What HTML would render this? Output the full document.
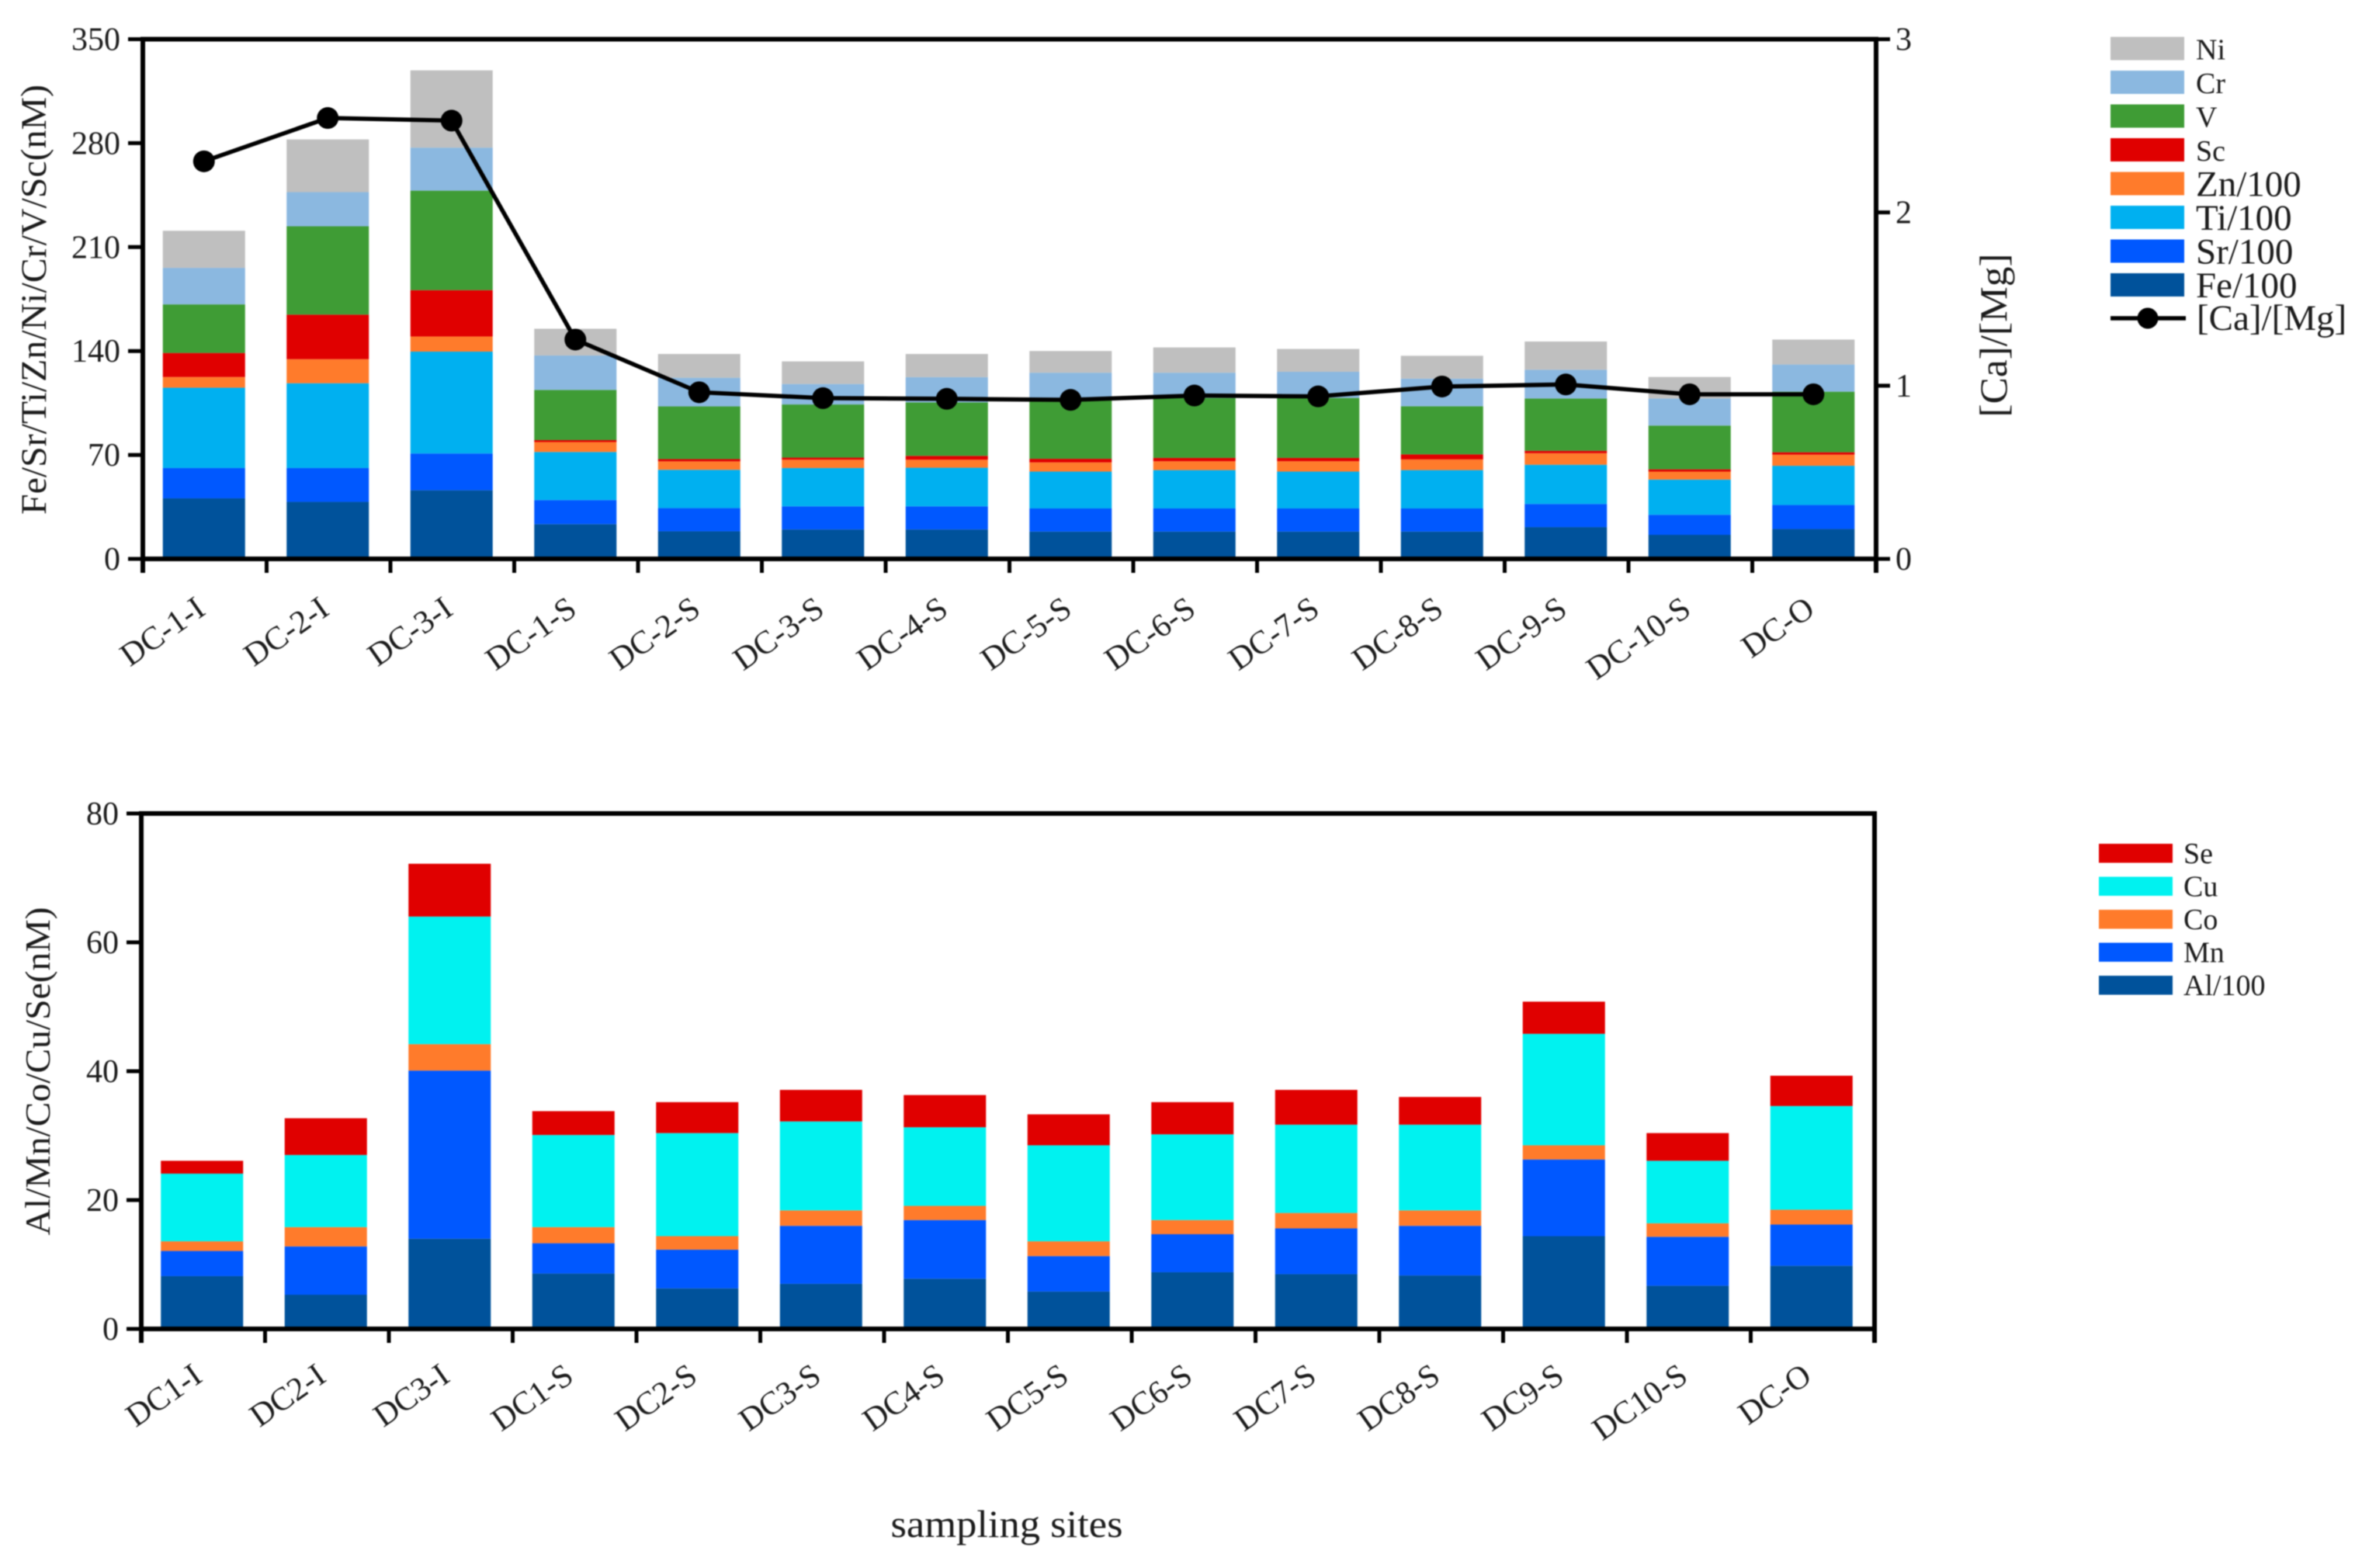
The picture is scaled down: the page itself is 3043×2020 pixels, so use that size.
<!DOCTYPE html>
<html lang="en">
<head>
<meta charset="utf-8">
<title>Stacked element concentrations by sampling site</title>
<style>
html,body{margin:0;padding:0;background:#fff;width:3043px;height:2020px;overflow:hidden}
svg{display:block;filter:blur(0.7px)}
text{font-family:"Liberation Serif",serif;fill:#1c1c1c}
</style>
</head>
<body>
<svg id="chart" xmlns="http://www.w3.org/2000/svg" width="3043" height="2020" viewBox="0 0 3043 2020">
  <rect width="3043" height="2020" fill="#fff"/>
  <g id="top-bars"></g>
  <g id="bottom-bars"></g>
  <g id="top-axes"></g>
  <g id="bottom-axes"></g>
  <g id="ratio-line"></g>
  <g id="legends"></g>
  <text transform="translate(59,386) rotate(-90)" text-anchor="middle" font-size="47" textLength="554" lengthAdjust="spacingAndGlyphs">Fe/Sr/Ti/Zn/Ni/Cr/V/Sc(nM)</text>
  <text transform="translate(2585,432) rotate(-90)" text-anchor="middle" font-size="50" textLength="211" lengthAdjust="spacingAndGlyphs">[Ca]/[Mg]</text>
  <text transform="translate(64,1380) rotate(-90)" text-anchor="middle" font-size="46" textLength="423" lengthAdjust="spacingAndGlyphs">Al/Mn/Co/Cu/Se(nM)</text>
  <text x="1297" y="1980" text-anchor="middle" font-size="50" textLength="299" lengthAdjust="spacingAndGlyphs">sampling sites</text>
</svg>
<script>
// ---- Top chart data ----
const topCategories = ["DC-1-I","DC-2-I","DC-3-I","DC-1-S","DC-2-S","DC-3-S","DC-4-S","DC-5-S","DC-6-S","DC-7-S","DC-8-S","DC-9-S","DC-10-S","DC-O"];
const feValues = [40.8,38.4,46.2,23.4,18.6,19.8,19.8,18.4,18.4,18.4,18.4,21.4,16.2,20.1];
const srValues = [20.4,22.8,24.8,16.2,15.6,15.6,15.6,15.6,15.6,15.6,15.6,15.6,13.5,16.2];
const tiValues = [54.1,57.1,68.6,32.4,25.8,25.8,26.0,24.8,25.8,24.8,25.8,26.4,23.7,26.4];
const znValues = [7.2,16.2,10.2,6.7,5.7,5.6,5.4,6.2,6.0,7.0,7.2,7.8,5.4,7.5];
const scValues = [16.2,30.0,31.2,1.3,1.5,1.4,2.6,2.4,2.2,2.2,3.4,1.6,1.5,1.6];
const vValues = [32.7,59.5,67.0,33.8,35.5,35.8,36.0,40.0,40.4,40.4,32.4,35.2,29.5,40.8];
const crValues = [24.6,23.0,29.0,23.2,19.3,13.8,17.0,18.0,17.0,17.6,18.6,19.4,18.2,18.3];
const niValues = [25.0,35.5,52.0,18.0,16.0,15.2,15.6,14.6,17.0,15.4,15.4,19.0,14.5,16.8];
const caMgValues = [2.295,2.545,2.53,1.266,0.962,0.928,0.924,0.918,0.943,0.938,0.995,1.007,0.95,0.95];
const topLeftTicks = [0,70,140,210,280,350];
const topRightTicks = [0,1,2,3];

// ---- Bottom chart data ----
const bottomCategories = ["DC1-I","DC2-I","DC3-I","DC1-S","DC2-S","DC3-S","DC4-S","DC5-S","DC6-S","DC7-S","DC8-S","DC9-S","DC10-S","DC-O"];
const alValues = [8.2,5.3,14.0,8.6,6.3,7.0,7.8,5.8,8.8,8.5,8.3,14.4,6.7,9.8];
const mnValues = [3.9,7.5,26.1,4.7,6.0,9.0,9.1,5.5,5.9,7.1,7.7,11.9,7.6,6.4];
const coValues = [1.5,3.0,4.1,2.5,2.1,2.4,2.2,2.3,2.2,2.4,2.4,2.2,2.1,2.3];
const cuValues = [10.5,11.2,19.8,14.3,16.0,13.8,12.2,14.9,13.3,13.7,13.3,17.3,9.7,16.1];
const seValues = [2.0,5.7,8.2,3.7,4.8,4.9,5.0,4.8,5.0,5.4,4.3,5.0,4.3,4.7];
const bottomTicks = [0,20,40,60,80];

// ---- Series labels ----
const topSeriesNames = ["Fe/100","Sr/100","Ti/100","Zn/100","Sc","V","Cr","Ni"];
const bottomSeriesNames = ["Al/100","Mn","Co","Cu","Se"];
const topSeriesValues = [feValues,srValues,tiValues,znValues,scValues,vValues,crValues,niValues];
const bottomSeriesValues = [alValues,mnValues,coValues,cuValues,seValues];

const NS = "http://www.w3.org/2000/svg";
const seriesColors = {"Fe/100":"#00529b","Sr/100":"#0058ff","Ti/100":"#00b0f0","Zn/100":"#ff7b2b","Sc":"#e00000","V":"#3f9c35","Cr":"#8bb8e0","Ni":"#bfbfbf","Al/100":"#00529b","Mn":"#0058ff","Co":"#ff7b2b","Cu":"#00f2f0","Se":"#e00000"};

function make(tag, attrs, parent, text){
  const el = document.createElementNS(NS, tag);
  for (const k in attrs) el.setAttribute(k, attrs[k]);
  if (text !== undefined) el.textContent = text;
  parent.appendChild(el);
  return el;
}
function slug(s){ return s.toLowerCase().replace(/[^a-z0-9]+/g,'-').replace(/^-|-$/g,''); }

const topPlot = {x0:184, x1:2417, yBase:720, yTop:50.5, maxL:350, maxR:3};
const botPlot = {x0:182, x1:2415, yBase:1712, yTop:1048, max:80};

const topX = i => topPlot.x0 + (topPlot.x1-topPlot.x0)/topCategories.length*(i+0.5) - 1;
const botX = i => botPlot.x0 + (botPlot.x1-botPlot.x0)/bottomCategories.length*(i+0.5) - 1.5;
const topY = v => topPlot.yBase - (topPlot.yBase-topPlot.yTop)*v/topPlot.maxL;
const topYR = v => topPlot.yBase - (topPlot.yBase-topPlot.yTop)*v/topPlot.maxR;
const botY = v => botPlot.yBase - (botPlot.yBase-botPlot.yTop)*v/botPlot.max;

function drawStack(group, names, values, cats, xf, yf, barW, prefix){
  cats.forEach((cat,i)=>{
    let sum = 0;
    names.forEach((nm,s)=>{
      const v = values[s][i];
      const yTop = yf(sum+v), yBot = yf(sum);
      const r = make('rect',{x:xf(i)-barW/2,y:yTop,width:barW,height:yBot-yTop,fill:seriesColors[nm]},group);
      
      
      sum += v;
    });
  });
}
drawStack(document.getElementById('top-bars'), topSeriesNames, topSeriesValues, topCategories, topX, topY, 106, 'top');
drawStack(document.getElementById('bottom-bars'), bottomSeriesNames, bottomSeriesValues, bottomCategories, botX, botY, 106, 'bottom');

function axisLine(group,x1,y1,x2,y2,w,name){
  const l = make('line',{x1,y1,x2,y2,stroke:'#000','stroke-width':w},group);
  
  
}

function drawAxes(group, plot, cats, prefix, labelDx, labelDy, leftTicks, leftY){
  const w = 6;
  axisLine(group,plot.x0,plot.yTop-w/2,plot.x0,plot.yBase+18,w,prefix+'-left-axis');
  axisLine(group,plot.x1,plot.yTop-w/2,plot.x1,plot.yBase+18,w,prefix+'-right-axis');
  axisLine(group,plot.x0,plot.yTop,plot.x1,plot.yTop,w,prefix+'-top-axis');
  axisLine(group,plot.x0,plot.yBase,plot.x1,plot.yBase,w,prefix+'-x-axis');
  const step = (plot.x1-plot.x0)/cats.length;
  for(let i=1;i<cats.length;i++){
    axisLine(group,plot.x0+step*i,plot.yBase,plot.x0+step*i,plot.yBase+18,5,prefix+'-x-tick');
  }
  leftTicks.forEach(t=>{
    const y = leftY(t);
    axisLine(group,plot.x0-19,y,plot.x0,y,5,prefix+'-y-tick-'+t);
    const lab = make('text',{x:plot.x0-29,y:y+14,'text-anchor':'end','font-size':42},group,String(t));
    
    
  });
  cats.forEach((c,i)=>{
    const cx = plot.x0+step*(i+0.5);
    const x = cx+labelDx, y = plot.yBase+labelDy;
    const lab = make('text',{x:x,y:y,'text-anchor':'end','font-size':42,transform:'rotate(-35 '+x+' '+y+')'},group,c);
    
    
  });
}
const topAxes = document.getElementById('top-axes');
drawAxes(topAxes, topPlot, topCategories, 'top', 3, 70, topLeftTicks, topY);
drawAxes(document.getElementById('bottom-axes'), botPlot, bottomCategories, 'bottom', 1, 66, bottomTicks, botY);

topRightTicks.forEach(t=>{
  const y = topYR(t);
  axisLine(topAxes,topPlot.x1,y,topPlot.x1+18,y,5,'top-right-y-tick-'+t);
  const lab = make('text',{x:topPlot.x1+25,y:y+14,'font-size':42},topAxes,String(t));
  
  
});

// Ca/Mg line
const lineG = document.getElementById('ratio-line');
const linePts = caMgValues.map((v,i)=>topX(i)+','+topYR(v)).join(' ');
const ratioPath = make('polyline',{points:linePts,fill:'none',stroke:'#000','stroke-width':5.5,'stroke-linejoin':'round'},lineG);


caMgValues.forEach((v,i)=>{
  const c = make('circle',{cx:topX(i),cy:topYR(v),r:14,fill:'#000'},lineG);
  
  
});

// Legends
const legendG = document.getElementById('legends');
const topLegendOrder = topSeriesNames.slice().reverse();
topLegendOrder.forEach((nm,i)=>{
  const y = 47.5 + i*43.5;
  const sw = make('rect',{x:2719,y:y,width:95,height:30,fill:seriesColors[nm]},legendG);
  
  
  const big = nm.indexOf('/')>=0;
  const t = make('text',{x:2829,y:y+(big?31:29),'font-size':big?47:38},legendG,nm);
  
  
});
const legendLine = make('line',{x1:2719,y1:410,x2:2816,y2:410,stroke:'#000','stroke-width':5.5},legendG);


const legendDot = make('circle',{cx:2767,cy:410,r:13.5,fill:'#000'},legendG);


const legendLineText = make('text',{x:2830,y:425,'font-size':47},legendG,'[Ca]/[Mg]');



const bottomLegendOrder = bottomSeriesNames.slice().reverse();
bottomLegendOrder.forEach((nm,i)=>{
  const y = 1087 + i*42.5;
  const sw = make('rect',{x:2704,y:y,width:95,height:24.5,fill:seriesColors[nm]},legendG);
  
  
  const t = make('text',{x:2813,y:y+25,'font-size':38},legendG,nm);
  
  
});
</script>
</body>
</html>
